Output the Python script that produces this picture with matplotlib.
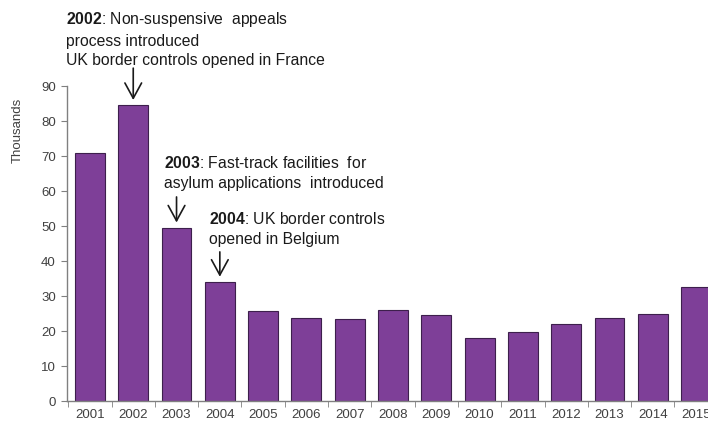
import numpy as np
import matplotlib
matplotlib.use('Agg')
from matplotlib import pyplot as plt

### Data: applications per year (thousands)
years = ['2001', '2002', '2003', '2004', '2005', '2006', '2007', '2008',
         '2009', '2010', '2011', '2012', '2013', '2014', '2015']
values = [71.0, 84.5, 49.5, 34.0, 25.7, 23.7, 23.4, 25.9,
          24.7, 18.0, 19.8, 22.0, 23.7, 25.0, 32.5]

# Event notes: (bar index, text)
notes_idx = [1, 2, 3]
notes_txt = [r'$\mathbf{2002}$: Non-suspensive  appeals' + '\nprocess introduced\nUK border controls opened in France',
             r'$\mathbf{2003}$: Fast-track facilities  for' + '\nasylum applications  introduced',
             r'$\mathbf{2004}$: UK border controls' + '\nopened in Belgium']

plt.rcParams['font.family'] = 'Liberation Sans'
plt.rcParams['mathtext.fontset'] = 'custom'
plt.rcParams['mathtext.rm'] = 'Liberation Sans'
plt.rcParams['mathtext.bf'] = 'Liberation Sans:bold'

grey = '#404040'
x = np.arange(len(years))

fig = plt.figure(figsize=(7.08, 4.23), dpi=100)
ax = fig.add_axes([67/708, 22/423, 652/708, 315/423])

ax.bar(x, values, width=0.69, color='#7E3F98', edgecolor='#3d1f4c', linewidth=0.8)

ax.set_xlim(-0.53, len(years) - 0.47)
ax.set_ylim(0, 90)
ax.set_yticks(np.arange(0, 91, 10))
ax.set_xticks(x)
ax.set_xticklabels(years)
ax.set_xticks(np.arange(-0.5, len(years), 1.0), minor=True)

for s in ['top', 'right']:
    ax.spines[s].set_visible(False)
for s in ['left', 'bottom']:
    ax.spines[s].set_color('#808080')
    ax.spines[s].set_linewidth(1.0)

ax.tick_params(axis='y', direction='out', length=4, color='#808080',
               labelsize=9.5, labelcolor=grey, pad=4)
ax.tick_params(axis='x', which='major', length=0, labelsize=9.5,
               labelcolor=grey, pad=6)
ax.tick_params(axis='x', which='minor', direction='out', length=4, color='#808080')

fig.text(18/708, 1 - 130/423, 'Thousands', rotation=90, ha='center', va='center',
         fontsize=9.5, color=grey)

# Text positions and arrow ends for each note (data coords)
text_pos = [(-0.55, 111.7), (1.72, 70.3), (2.75, 54.3)]
arrow_top = [95.1, 58.3, 42.6]
for i, txt, (tx, ty), at in zip(notes_idx, notes_txt, text_pos, arrow_top):
    ax.text(tx, ty, txt, ha='left', va='top', fontsize=11.3, color='#1a1a1a',
            linespacing=1.38, clip_on=False)
    ax.annotate('', xy=(i, values[i] + 1.5), xytext=(i, at),
                arrowprops=dict(arrowstyle='->, head_length=0.55, head_width=0.3',
                                color='#1a1a1a', lw=1.2,
                                mutation_scale=20, shrinkA=0, shrinkB=0),
                annotation_clip=False)

fig.savefig('out.png', dpi=100)
